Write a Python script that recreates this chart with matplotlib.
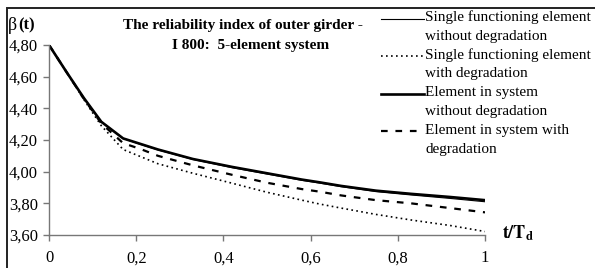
import matplotlib
matplotlib.use("Agg")
import matplotlib.pyplot as plt
from matplotlib.lines import Line2D
from matplotlib.patches import Rectangle

plt.rcParams['font.family'] = ['Liberation Serif', 'DejaVu Serif']
plt.rcParams['mathtext.fontset'] = 'stix'

# relative time t/Td
t = [0, 0.04, 0.08, 0.12, 0.17, 0.21, 0.25, 0.33, 0.42, 0.5, 0.58, 0.62, 0.67, 0.75, 0.83, 0.92, 1.0]

# reliability index beta(t)
single_no_deg = [4.80, 4.63, 4.465, 4.315, 4.21, 4.172, 4.137, 4.077, 4.025, 3.985, 3.945, 3.928,
                 3.905, 3.874, 3.853, 3.831, 3.81]
single_deg = [4.80, 4.63, 4.455, 4.29, 4.14, 4.095, 4.05, 3.99, 3.927, 3.87, 3.82, 3.796,
              3.77, 3.73, 3.695, 3.66, 3.622]
system_no_deg = [4.80, 4.63, 4.465, 4.315, 4.21, 4.175, 4.14, 4.08, 4.03, 3.99, 3.95, 3.933,
                 3.91, 3.88, 3.86, 3.84, 3.82]
system_deg = [4.80, 4.63, 4.46, 4.305, 4.18, 4.143, 4.10, 4.04, 3.98, 3.93, 3.89, 3.874,
              3.85, 3.82, 3.80, 3.77, 3.743]

labels = ["Single functioning element\nwithout degradation",
          "Single functioning element\nwith degradation",
          "Element in system\nwithout degradation",
          "Element in system with\ndegradation"]

xticks = [0, 0.2, 0.4, 0.6, 0.8, 1.0]
xticklabels = ["0", "0,2", "0,4", "0,6", "0,8", "1"]
yticks = [3.6, 3.8, 4.0, 4.2, 4.4, 4.6, 4.8]
yticklabels = ["3,60", "3,80", "4,00", "4,20", "4,40", "4,60", "4,80"]

W, H = 595, 268
fig = plt.figure(figsize=(W / 100, H / 100), dpi=100)
ax = fig.add_axes([49 / W, 1 - 235 / H, 436 / W, 190 / H])

styles = [
    dict(color="black", lw=0.8, ls="-"),
    dict(color="black", lw=1.2, ls=(0, (1, 2))),
    dict(color="black", lw=1.9, ls="-"),
    dict(color="black", lw=1.6, ls=(0, (3, 3.5))),
]
series = [single_no_deg, single_deg, system_no_deg, system_deg]
for vals, st in zip(series, styles):
    ax.plot(t, vals, **st)

ax.set_xlim(0, 1)
ax.set_ylim(3.6, 4.8)
ax.set_xticks(xticks)
ax.set_xticklabels(xticklabels)
ax.set_yticks(yticks)
ax.set_yticklabels(yticklabels)
for s in ["top", "right"]:
    ax.spines[s].set_visible(False)
for s in ["left", "bottom"]:
    ax.spines[s].set_color("#777777")
    ax.spines[s].set_linewidth(1.0)
ax.tick_params(axis="both", direction="out", length=4, width=1, color="#777777",
               labelsize=12, labelcolor="black")
ax.tick_params(axis="x", pad=7)
ax.tick_params(axis="y", pad=4)

# outer frame (top and left visible)
fig.add_artist(Rectangle((7 / W, -0.1), 1.2, 1 - 8 / H + 0.1, transform=fig.transFigure,
                         fill=False, edgecolor="#222222", lw=1.4))

fig.text(8 / W, 1 - 25 / H, "β", fontsize=13, va="center", ha="left")
fig.text(18 / W, 1 - 25 / H, "(t)", fontsize=12, va="center", ha="left", weight="bold")

fig.text(243 / W, 1 - 25 / H, "The reliability index of outer girder -", fontsize=11,
         weight="bold", ha="center", va="center")
fig.text(251 / W, 1 - 45 / H, "I 800:  5-element system", fontsize=11,
         weight="bold", ha="center", va="center")

fig.text(502 / W, 1 - 233 / H, r"$\mathbf{t/T_d}$", fontsize=13, ha="left", va="center")

# legend drawn by hand: sample aligned with first text line
y0, dy = 17.5, 18.8
for i, (lab, st) in enumerate(zip(labels, styles)):
    yy = 1 - (y0 + 2 * i * dy) / H
    fig.add_artist(Line2D([381 / W, 424 / W], [yy - 1 / H, yy - 1 / H],
                          transform=fig.transFigure, **st))
    for j, line in enumerate(lab.split("\n")):
        fig.text(425 / W, 1 - (y0 + (2 * i + j) * dy) / H, line, fontsize=11,
                 ha="left", va="center")

fig.savefig("out.png", dpi=100)
